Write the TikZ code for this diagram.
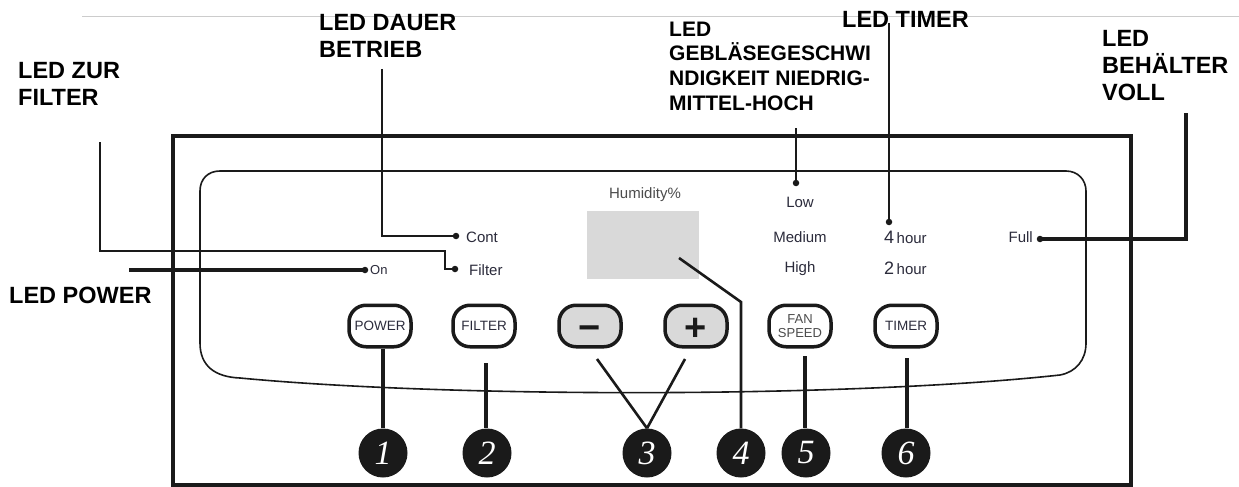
\documentclass[tikz,border=0pt]{standalone}
\usepackage{fontspec}
\setmainfont{Liberation Sans}
\newfontfamily\digitfont{Liberation Serif}
\usetikzlibrary{calc}
\definecolor{ink}{HTML}{1A1A1A}
\definecolor{txt}{HTML}{2B2B3B}
\definecolor{lcd}{HTML}{D9D9D9}
\definecolor{topline}{HTML}{CCCCCC}
\begin{document}
\begin{tikzpicture}[x=1pt,y=-1pt,
  lbl/.style={font=\fontsize{23.5}{27}\selectfont\bfseries, align=left, anchor=base west, inner sep=0},
  fanlbl/.style={font=\fontsize{21}{24.5}\selectfont\bfseries, align=left, anchor=base west, inner sep=0},
  small/.style={font=\fontsize{15}{17}\selectfont, text=txt, inner sep=0},
  btn/.style={draw=ink, line width=3.5pt, rounded corners=17pt, minimum width=62pt, minimum height=41.5pt, inner sep=0, font=\fontsize{13.5}{14}\selectfont, text=txt},
  gbtn/.style={btn, fill=lcd, font=\fontsize{38}{38}\selectfont\bfseries, text=ink},
  num/.style={circle, fill=ink, minimum size=49pt, inner sep=0, text=white, font=\digitfont\itshape\fontsize{34}{34}\selectfont},
  ledot/.style={circle, fill=ink, minimum size=6.5pt, inner sep=0},
  lead/.style={draw=ink, line width=2.6pt},
  leadthick/.style={draw=ink, line width=4pt},
  panel/.style={draw=ink, line width=1.6pt},
]
\useasboundingbox (0,0) rectangle (1239,487);
\fill[white] (0,0) rectangle (1239,487);
% top thin line
\draw[topline, line width=1pt] (82,17) -- (1239,17);
% inner panel
\draw[panel] (200,191) -- (200,343) .. controls (200,366) and (215,377) .. (240,378)
  .. controls (450,398) and (850,398) .. (1060,375)
  .. controls (1076,372) and (1086,360) .. (1086,343) -- (1086,191)
  .. controls (1086,180) and (1078,171) .. (1066,171) -- (220,171)
  .. controls (208,171) and (200,179) .. (200,191) -- cycle;
% outer frame
\draw[ink, line width=4.5pt] (173,136) rectangle (1131,485);
% display
\fill[lcd] (587,211) rectangle (699,279);
\node[small, text=black!70] (hum) at (645,195) {Humidity\%};
% LED dots
\node[ledot] (dOn) at (365,270) {};
\node[ledot] (dFilter) at (455,269) {};
\node[ledot] (dCont) at (456,236) {};
\node[ledot] (dLow) at (796,183) {};
\node[ledot] (dFour) at (889,222) {};
\node[ledot] (dFull) at (1040,239) {};
% LED texts
\node[small, anchor=west] (tCont) at (466,237) {Cont};
\node[small, anchor=west] (tFilter) at (469,270) {Filter};
\node[small, anchor=west, font=\fontsize{13}{15}\selectfont] (tOn) at (370,270) {On};
\node[small] (tLow) at (800,202) {Low};
\node[small] (tMed) at (800,237) {Medium};
\node[small] (tHigh) at (800,269) {High};
\node[small, anchor=west] (tFour) at (884,237) {{\fontsize{18}{18}\selectfont 4}\,hour};
\node[small, anchor=west] (tTwo) at (884,268) {{\fontsize{18}{18}\selectfont 2}\,hour};
\node[small, anchor=east] (tFull) at (1033,237) {Full};
% callout labels (base anchor = last line baseline)
\node[lbl] (lZur) at (18,105) {LED ZUR\\FILTER};
\node[lbl] (lDauer) at (319,57) {LED DAUER\\BETRIEB};
\node[fanlbl] (lFan) at (669,110) {LED\\GEBLÄSEGESCHWI\\NDIGKEIT NIEDRIG-\\MITTEL-HOCH};
\node[lbl] (lTimer) at (842,28) {LED TIMER};
\node[lbl] (lVoll) at (1102,100) {LED\\BEHÄLTER\\VOLL};
\node[lbl] (lPower) at (9,303) {LED POWER};
% callout leader start points
\coordinate (cZur) at (100,142);
\coordinate (cZurK) at (445,251);
\coordinate (cDauer) at (382,69);
\coordinate (cPower) at (129,270);
\coordinate (cFan) at (796,128);
\coordinate (cTimer) at (889,23);
\coordinate (cVoll) at (1186,113);
% leaders
\draw[lead] (cZur) |- (cZurK) |- (dFilter.center);
\draw[lead] (cDauer) |- (dCont.center);
\draw[leadthick] (cPower) -- (dOn.center);
\draw[lead] (cFan) -- (dLow.center);
\draw[lead] (cTimer) -- (dFour.center);
\draw[leadthick] (cVoll) |- (dFull.center);
% buttons
\node[btn] (b1) at (380,326) {POWER};
\node[btn] (b2) at (484,326) {FILTER};
\node[gbtn] (bMinus) at (590,326) {\raisebox{-14pt}[0pt][0pt]{−}};
\node[gbtn] (bPlus) at (696,326) {\raisebox{-14pt}[0pt][0pt]{+}};
\node[btn, align=center, font=\fontsize{13}{14}\selectfont, text=black!70] (b5) at (800,326) {FAN\\SPEED};
\node[btn] (b6) at (906,326) {TIMER};
% numbered circles
\node[num] (n1) at (383,453) {1};
\node[num] (n2) at (487,453) {2};
\node[num] (n3) at (647,453) {3};
\node[num] (n4) at (741,453) {4};
\node[num] (n5) at (806,453) {5};
\node[num] (n6) at (906,453) {6};
% number leaders
\coordinate (c2) at (486,363);
\coordinate (c3a) at (597,359);
\coordinate (c3b) at (685,359);
\coordinate (c4a) at (679,258);
\coordinate (c4b) at (741,302);
\coordinate (c5) at (805,356);
\coordinate (c6) at (907,358);
\draw[leadthick] (b1.south -| n1) -- (n1.north);
\draw[leadthick] (c2) -- (c2 |- n2.north);
\draw[lead] (c3a) -- (n3.north);
\draw[lead] (c3b) -- (n3.north);
\draw[lead] (c4a) -- (c4b) -- (n4.north);
\draw[leadthick] (c5) -- (c5 |- n5.north);
\draw[leadthick] (c6) -- (c6 |- n6.north);
\end{tikzpicture}
\end{document}
